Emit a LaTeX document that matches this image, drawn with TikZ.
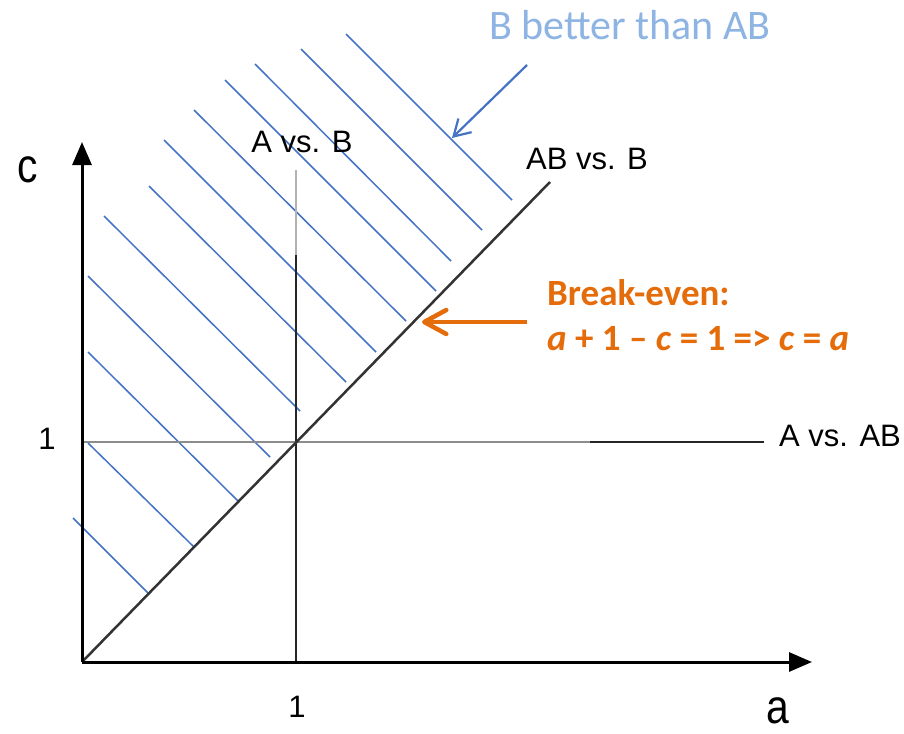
\documentclass[tikz,border=0pt]{standalone}
\usepackage{fontspec}
\setmainfont{Liberation Sans}
\newfontfamily\calib{Carlito}
\usetikzlibrary{arrows.meta}
\definecolor{hatch}{HTML}{4472C4}
\definecolor{lblue}{HTML}{8EB4E3}
\definecolor{orng}{HTML}{E46C0A}
\begin{document}
\begin{tikzpicture}[x=1pt,y=-1pt,
  hatchline/.style={hatch, line width=1.5pt},
  lbl/.style={font=\fontsize{31}{36}\selectfont, inner sep=0pt},
  biglbl/.style={font=\fontsize{48}{50}\selectfont, inner sep=0pt},
  axisline/.style={line width=3pt, -{Triangle[length=23pt,width=19pt]}},
  orangetext/.style={anchor=base west, font=\calib\bfseries\fontsize{37}{44}\selectfont, text=orng, inner sep=0pt},
]
\useasboundingbox (0,0) rectangle (904,733);
% coordinates
\coordinate (O) at (82,662);
\coordinate (XT) at (812,662);
\coordinate (YT) at (82,142);
\coordinate (V1) at (296,170);
\coordinate (V2) at (296,255);
\coordinate (V3) at (296,662);
\coordinate (H1) at (82,442);
\coordinate (H2) at (590,442);
\coordinate (H3) at (764,442);
\coordinate (D) at (550,182);
% hatch lines
\foreach \sx/\sy/\ex/\ey in {346/34/512/200, 301/49/482/230, 255/64/451/261, 225/80/436/291,
  194/110/406/321, 164/140/376/352, 149/186/346/382, 104/216/300/411, 88/276/270/457,
  88/352/239/502, 88/443/194/547, 73/518/148/593}
  \draw[hatchline] (\sx,\sy) -- (\ex,\ey);
% lines
\draw[gray!60, line width=2.5pt] (V1) -- (V2);
\draw[black!85, line width=2pt] (V2) -- (V3);
\draw[gray!90, line width=2.5pt] (H1) -- (H2);
\draw[black!85, line width=2pt] (H2) -- (H3);
\draw[black!80, line width=2.5pt] (O) -- (D);
\draw[axisline] (O) -- (XT);
\draw[axisline] (O) -- (YT);
% labels
\node[lbl] (lAB) at (302,142) {A vs. B};
\node[lbl] (lABB) at (587,159) {AB vs. B};
\node[lbl] (lAAB) at (840,436) {A vs. AB};
\node[lbl] (one1) at (47,439) {1};
\node[lbl] (one2) at (297,707) {1};
\node[biglbl] (c) at (28,170) {\scalebox{0.85}[1]{c}};
\node[biglbl] (a) at (778,711) {\scalebox{0.85}[1]{a}};
\node[font=\calib\fontsize{42}{48}\selectfont, text=lblue, inner sep=0pt] (better) at (630,25) {B better than AB};
\node[orangetext] (be1) at (547,305) {Break-even:};
\node[orangetext] (be2) at (547,350) {\textit{a} + 1 – \textit{c} = 1 => \textit{c} = \textit{a}};
% arrows
\coordinate (BA1) at (527,65);
\coordinate (BA2) at (452,138);
\draw[hatch, line width=2.2pt, -{Straight Barb[length=16pt,width=19pt]}] (BA1) -- (BA2);
\coordinate (OA1) at (527,322);
\coordinate (OA2) at (422,322);
\draw[orng, line width=4.5pt, -{Straight Barb[length=22pt,width=24pt,round]}] (OA1) -- (OA2);
\end{tikzpicture}
\end{document}
